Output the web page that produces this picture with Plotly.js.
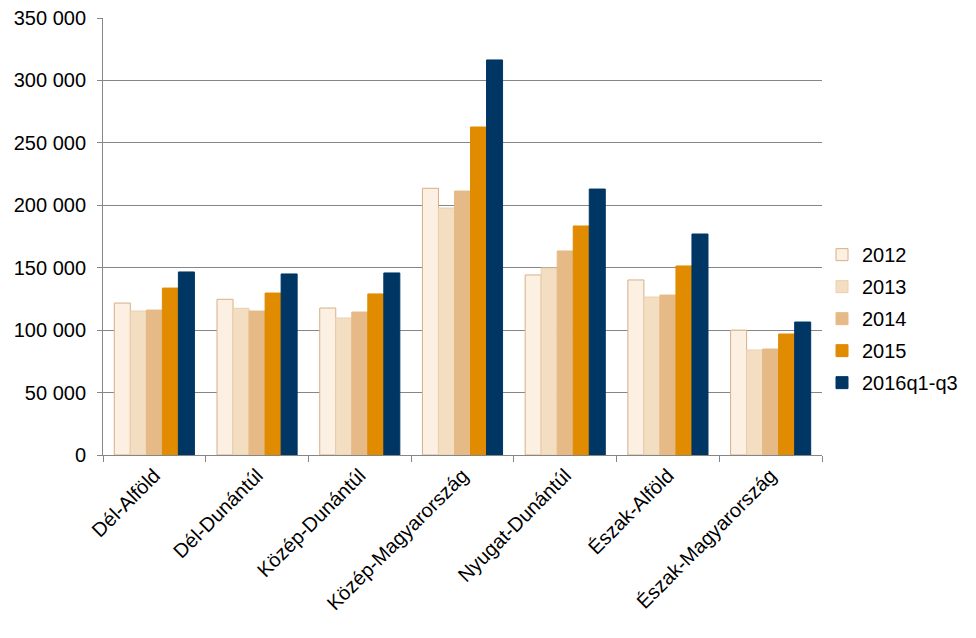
<!DOCTYPE html>
<html>
<head>
<meta charset="utf-8">
<script src="https://cdn.plot.ly/plotly-3.0.1.min.js"></script>
<style>
html,body{margin:0;padding:0;background:#fff;}
#chart{width:976px;height:638px;outline:1px solid #868686;outline-offset:-1px;}
</style>
</head>
<body>
<div id="chart"></div>
<script>
const regions = ["Dél-Alföld","Dél-Dunántúl","Közép-Dunántúl","Közép-Magyarország","Nyugat-Dunántúl","Észak-Alföld","Észak-Magyarország"];
const seriesNames = ["2012","2013","2014","2015","2016q1-q3"];
const v2012 = [121700,124700,117700,213600,144200,140200,100000];
const v2013 = [115300,117500,109700,197800,149800,126500,84100];
const v2014 = [116100,115300,114500,211400,163400,128100,84900];
const v2015 = [133700,129700,129000,262700,183400,151400,96900];
const v2016 = [146600,145000,145800,316400,213000,177000,106500];
const yTicks = [0,50000,100000,150000,200000,250000,300000,350000];

const values = [v2012,v2013,v2014,v2015,v2016];
const fills = ["#FCF0E3","#F4DEC2","#E6BA86","#E08B00","#003663"];
const borders = ["#D6B088","#E9CFAE","#E6BA86","#E08B00","#003663"];

const traces = values.map((v,i)=>({
  type:"bar", name:seriesNames[i], x:regions, y:v, legendgroup:"g"+i,
  marker:{color:fills[i], line:{color:borders[i], width:1}},
  hoverinfo:"x+y+name"
}));

const font = {family:"Arial, 'Liberation Sans', sans-serif", color:"#000"};
const layout = {
  width:976, height:638,
  margin:{l:103, r:154, t:18, b:183, pad:0},
  paper_bgcolor:"#fff", plot_bgcolor:"#fff",
  separators:", ",
  barmode:"group", bargap:0.22, bargroupgap:0,
  font:Object.assign({size:20}, font),
  showlegend:true,
  legend:{x:1.0, xanchor:"left", y:0.312, yanchor:"middle",
    font:Object.assign({size:20}, font), itemwidth:30, tracegroupgap:3,
    bgcolor:"rgba(0,0,0,0)"},
  xaxis:{type:"category", tickangle:-45, tickson:"boundaries",
    ticks:"outside", ticklen:6, tickcolor:"#868686", tickwidth:1,
    showline:true, linecolor:"#868686", linewidth:1,
    showgrid:false, tickfont:Object.assign({size:20}, font), automargin:false},
  yaxis:{range:[0,350000], tickvals:yTicks, tickformat:",d",
    ticks:"outside", ticklen:5, tickcolor:"#868686", ticklabelstandoff:7,
    showline:true, linecolor:"#868686", linewidth:1,
    showgrid:true, gridcolor:"#868686", gridwidth:1, zeroline:false,
    tickfont:Object.assign({size:20}, font), automargin:false}
};
Plotly.newPlot("chart", traces, layout, {displayModeBar:false, staticPlot:true});
</script>
</body>
</html>
